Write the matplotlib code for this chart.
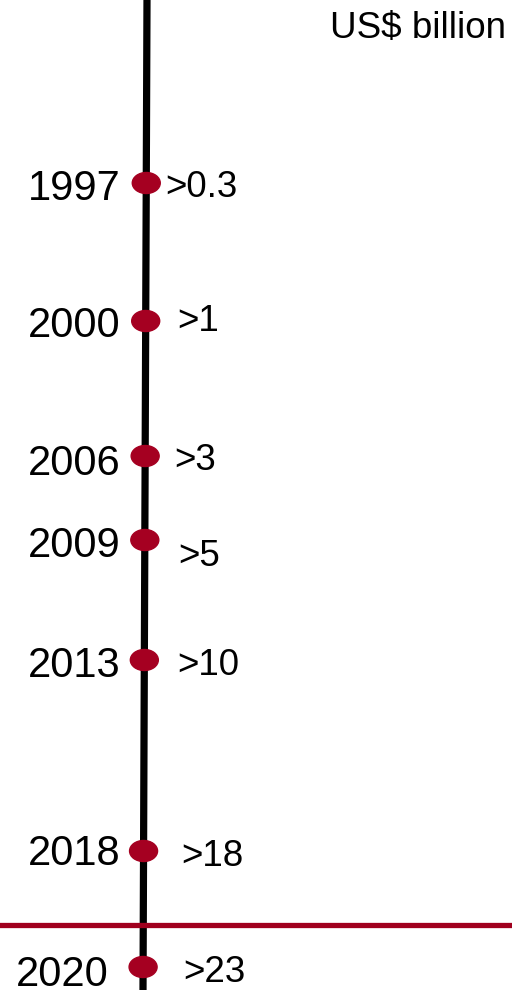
import matplotlib.pyplot as plt
from matplotlib.patches import Ellipse

plt.rcParams['font.family'] = ['Liberation Sans', 'DejaVu Sans']

# dane: rok, wartość (US$ mld), położenie na osi czasu
years = ['1997', '2000', '2006', '2009', '2013', '2018', '2020']
values = ['>0.3', '>1', '>3', '>5', '>10', '>18', '>23']
timeline_y = [183, 321, 456, 540, 660, 851, 967]
unit = 'US$ billion'

RED = '#a50021'

fig = plt.figure(figsize=(5.12, 9.9), dpi=100)
ax = fig.add_axes([0, 0, 1, 1])
ax.set_xlim(0, 512)
ax.set_ylim(990, 0)
ax.axis('off')

# oś czasu (lekko pochylona jak w oryginale)
ax.plot([147, 143], [0, 990], color='black', lw=5.2, solid_capstyle='butt', zorder=1)
ax.axhline(925, color='#a0001e', lw=3.8, zorder=2)

# ręczne przesunięcia etykiet
year_right = [121, 121, 121, 121, 121, 121, 109]
year_dy = [17, 16, 19, 17, 17, 14, 19]
val_x = [165, 177, 174, 178, 177, 181, 183]
val_dy = [14, 10, 14, 26, 15, 15, 15]

for i, (yr, val, y) in enumerate(zip(years, values, timeline_y)):
    x_line = 147 - 4 * y / 990
    ax.add_patch(Ellipse((x_line, y), 28, 21, color=RED, zorder=3))
    ax.text(year_right[i], y + year_dy[i], yr, ha='right', va='baseline',
            fontsize=30, color='black')
    ax.text(val_x[i], y + val_dy[i], val, ha='left', va='baseline',
            fontsize=26.5, color='black')

ax.text(506, 38, unit, ha='right', va='baseline', fontsize=26.5, color='black')

fig.savefig('out.png', dpi=100)
